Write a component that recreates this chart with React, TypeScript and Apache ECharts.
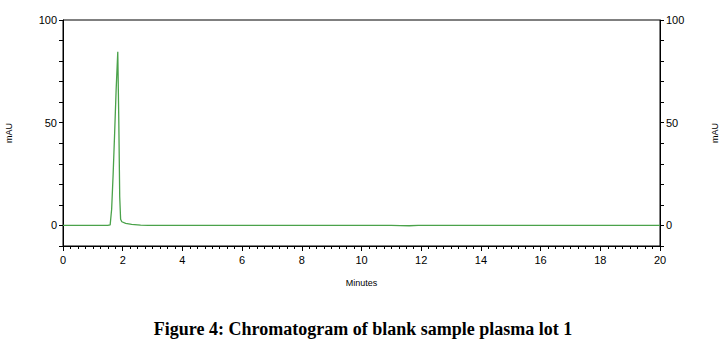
import React, { useEffect, useRef } from "react";
import * as echarts from "echarts";

const times = [0, 1.5, 1.58, 1.63, 1.68, 1.73, 1.78, 1.835, 1.87, 1.9, 1.93, 1.97, 2.1, 2.3, 2.6, 2.85, 6, 11, 11.3, 11.6, 11.9, 20];
const mAU = [0, 0, 0.3, 8, 25, 45, 66, 84.5, 50, 14, 3, 1.8, 1.0, 0.5, 0.2, 0, 0, 0, -0.1, -0.15, 0, 0];
const yLabels = [0, 50, 100];
const titleText = "Figure 4: Chromatogram of blank sample plasma lot 1";

export default function App() {
  const ref = useRef<HTMLDivElement>(null);
  useEffect(() => {
    if (!ref.current) return;
    const chart = echarts.init(ref.current, null, { renderer: "svg" });
    const labelStyle = { color: "#000", fontFamily: "Liberation Sans", fontSize: 11 };
    const yAxisBase = (pos: "left" | "right") => ({
      type: "value" as const,
      position: pos,
      min: -10,
      max: 100,
      interval: 10,
      name: "mAU",
      nameLocation: "middle" as const,
      nameRotate: 90,
      nameGap: 50,
      nameTextStyle: { color: "#000", fontFamily: "Liberation Sans", fontSize: 9 },
      axisLine: { show: true, lineStyle: { color: "#000", width: 1 } },
      axisTick: { show: true, length: 4, lineStyle: { color: "#000" } },
      splitLine: { show: false },
      axisLabel: {
        ...labelStyle,
        margin: 6,
        formatter: (v: number) => (yLabels.includes(v) ? String(v) : ""),
      },
    });
    chart.setOption({
      animation: false,
      grid: {
        left: 63,
        right: 66,
        top: 20,
        bottom: 118,
        containLabel: false,
        outerBoundsMode: "none",
        show: true,
        borderColor: "#000",
        borderWidth: 1,
      },
      xAxis: {
        type: "value",
        min: 0,
        max: 20,
        interval: 2,
        name: "Minutes",
        nameLocation: "middle",
        nameGap: 32,
        nameTextStyle: { color: "#000", fontFamily: "Liberation Sans", fontSize: 9 },
        axisLine: { show: true, onZero: false, lineStyle: { color: "#000", width: 1 } },
        axisTick: { show: true, length: 5, lineStyle: { color: "#000" } },
        minorTick: { show: true, splitNumber: 8, length: 3, lineStyle: { color: "#000" } },
        splitLine: { show: false },
        axisLabel: { ...labelStyle, margin: 8 },
      },
      yAxis: [yAxisBase("left"), yAxisBase("right")],
      series: [
        {
          type: "line",
          data: times.map((t, i) => [t, mAU[i]]),
          showSymbol: false,
          symbol: "none",
          lineStyle: { color: "#4aa24a", width: 1.3 },
          itemStyle: { color: "#4aa24a" },
        },
      ],
      graphic: [
        {
          type: "text",
          left: "center",
          top: 320,
          style: {
            text: titleText,
            fontFamily: "Liberation Serif",
            fontWeight: "bold",
            fontSize: 18,
            fill: "#000",
          },
        },
      ],
    });
    return () => chart.dispose();
  }, []);
  return <div ref={ref} style={{ position: "fixed", left: 0, top: 0, width: 726, height: 364, background: "#fff" }} />;
}
